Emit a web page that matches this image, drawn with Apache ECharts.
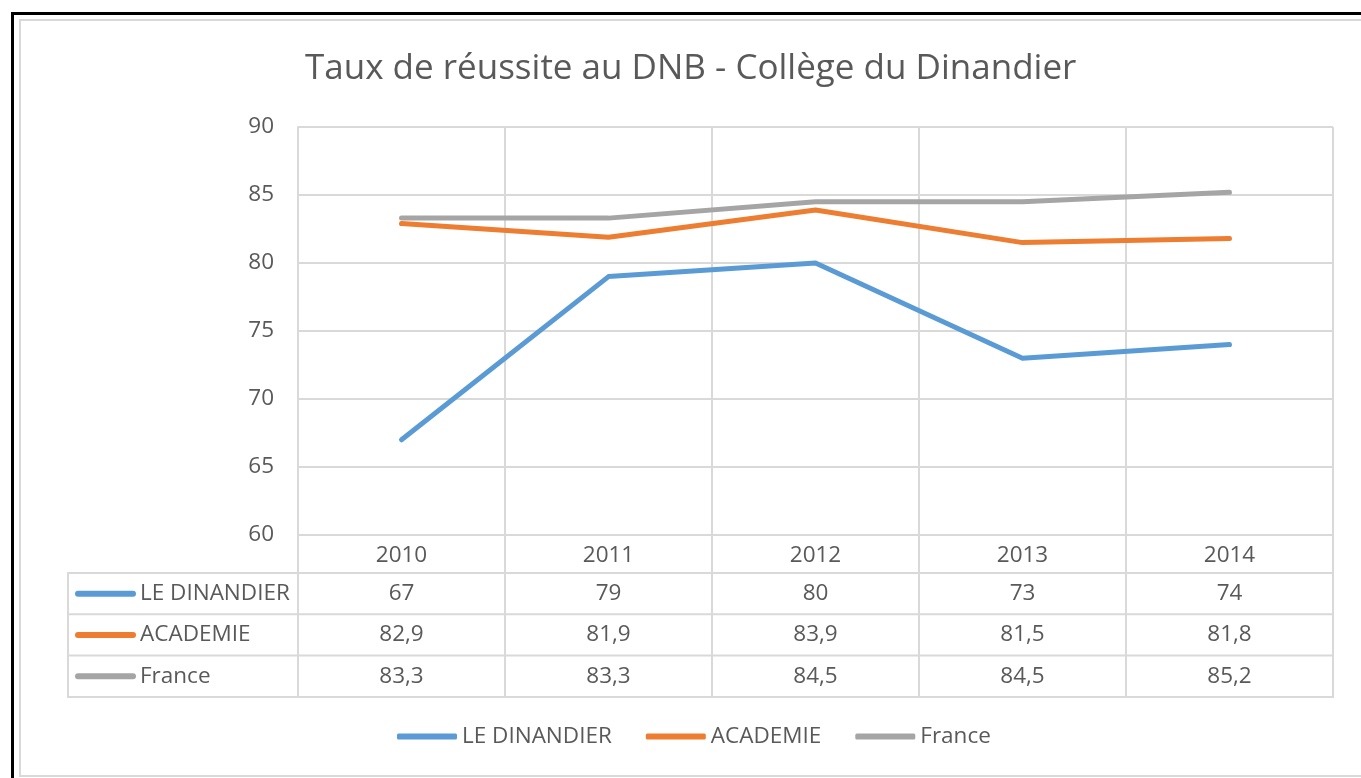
<!DOCTYPE html>
<html>
<head>
<meta charset="utf-8">
<script src="https://cdn.jsdelivr.net/npm/echarts@6/dist/echarts.min.js"></script>
<style>
html,body{margin:0;padding:0;background:#fff;}
#c{width:1361px;height:778px;}
</style>
</head>
<body>
<div id="c"></div>
<script>
var title = 'Taux de réussite au DNB - Collège du Dinandier';
var categories = ['2010', '2011', '2012', '2013', '2014'];
var seriesNames = ['LE DINANDIER', 'ACADEMIE', 'France'];
var dinandier = [67, 79, 80, 73, 74];
var academie = [82.9, 81.9, 83.9, 81.5, 81.8];
var france = [83.3, 83.3, 84.5, 84.5, 85.2];
var yTicks = [60, 65, 70, 75, 80, 85, 90];

var colors = ['#5B9BD5', '#ED7D31', '#A5A5A5'];
var allValues = [dinandier, academie, france];
var FONT = '"Open Sans", Lato, sans-serif';
var FS = 22.5;
var TXT = '#595959';
var GRIDC = '#D9D9D9';

var chart = echarts.init(document.getElementById('c'), null, {renderer: 'canvas'});

function fmt(v) { return String(v).replace('.', ','); }

var option = {
  animation: false,
  backgroundColor: '#fff',
  color: colors,
  title: {
    text: title,
    left: 305,
    top: 52,
    padding: 0,
    textStyle: {fontFamily: FONT, fontWeight: 'normal', fontSize: 35, color: TXT}
  },
  legend: {
    data: seriesNames,
    bottom: 25,
    left: 392,
    icon: 'roundRect',
    itemWidth: 60,
    itemHeight: 6,
    itemGap: 34,
    textStyle: {fontFamily: FONT, fontSize: FS, color: TXT, padding: [0, 0, 0, 0]}
  },
  grid: {left: 298, top: 127, width: 1035, height: 408, containLabel: false},
  xAxis: {
    type: 'category',
    data: categories,
    boundaryGap: true,
    axisLine: {show: true, lineStyle: {color: GRIDC, width: 2}},
    axisTick: {show: false},
    splitLine: {show: true, lineStyle: {color: GRIDC, width: 2}},
    axisLabel: {fontFamily: FONT, fontSize: FS, color: TXT, margin: 9}
  },
  yAxis: {
    type: 'value',
    min: yTicks[0],
    max: yTicks[yTicks.length - 1],
    interval: 5,
    axisLine: {show: true, lineStyle: {color: GRIDC, width: 2}},
    axisTick: {show: false},
    splitLine: {show: true, lineStyle: {color: GRIDC, width: 2}},
    axisLabel: {fontFamily: FONT, fontSize: FS, color: TXT, margin: 24}
  },
  series: seriesNames.map(function (n, i) {
    return {
      name: n,
      type: 'line',
      data: allValues[i],
      symbol: 'none',
      lineStyle: {width: 5, color: colors[i], cap: 'round', join: 'round'},
      itemStyle: {color: colors[i]},
      z: 3 + (2 - i)
    };
  })
};
chart.setOption(option);

// Data table below the plot
var x0 = chart.convertToPixel({xAxisIndex: 0}, 0);
var x1 = chart.convertToPixel({xAxisIndex: 0}, 1);
var band = x1 - x0;
var plotBottom = chart.convertToPixel({yAxisIndex: 0}, yTicks[0]);
var tableLeft = 68;
var headerBottom = 573;
var rowH = 41.3;
var tableBottom = headerBottom + rowH * 3;
var leftEdge = x0 - band / 2;
var rightEdge = x0 + band * (categories.length - 0.5);

var g = [];
// outer frame
g.push({type: 'line', shape: {x1: 12.5, y1: 12, x2: 12.5, y2: 778}, style: {stroke: '#000', lineWidth: 3}, z: 10});
g.push({type: 'line', shape: {x1: 11, y1: 13.5, x2: 1361, y2: 13.5}, style: {stroke: '#000', lineWidth: 3}, z: 10});
g.push({type: 'polyline', shape: {points: [[1361, 20], [20, 20], [20, 776], [1361, 776]]}, style: {stroke: GRIDC, lineWidth: 2, fill: null}, z: 10});

// vertical lines through table
for (var k = 0; k <= categories.length; k++) {
  var xx = leftEdge + band * k;
  g.push({type: 'line', shape: {x1: xx, y1: plotBottom, x2: xx, y2: tableBottom}, style: {stroke: GRIDC, lineWidth: 2}});
}
g.push({type: 'line', shape: {x1: tableLeft, y1: headerBottom, x2: tableLeft, y2: tableBottom}, style: {stroke: GRIDC, lineWidth: 2}});
for (var r = 0; r <= 3; r++) {
  var yy = headerBottom + rowH * r;
  g.push({type: 'line', shape: {x1: tableLeft - 1, y1: yy, x2: rightEdge + 1, y2: yy}, style: {stroke: GRIDC, lineWidth: 2}});
}
for (var s = 0; s < seriesNames.length; s++) {
  var cy = headerBottom + rowH * (s + 0.5);
  g.push({type: 'line', shape: {x1: 78, y1: cy, x2: 133, y2: cy}, style: {stroke: colors[s], lineWidth: 6, lineCap: 'round'}});
  g.push({type: 'text', x: 140, y: cy, style: {text: seriesNames[s], fill: TXT, font: FS + 'px ' + FONT, textAlign: 'left', textVerticalAlign: 'middle'}});
  for (var c = 0; c < categories.length; c++) {
    var cx = chart.convertToPixel({xAxisIndex: 0}, c);
    g.push({type: 'text', x: cx, y: cy, style: {text: fmt(allValues[s][c]), fill: TXT, font: FS + 'px ' + FONT, textAlign: 'center', textVerticalAlign: 'middle'}});
  }
}
chart.setOption({graphic: g});
</script>
</body>
</html>
